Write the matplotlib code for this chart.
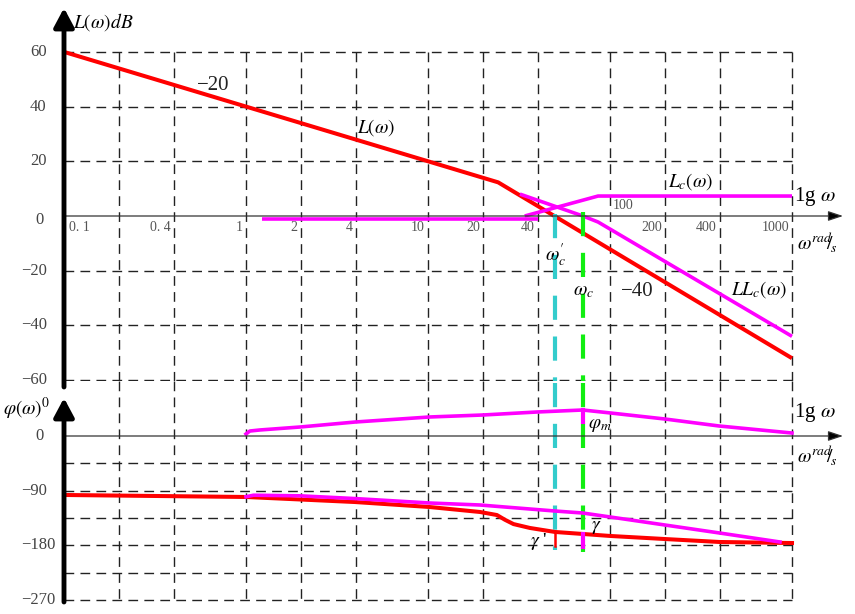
import numpy as np
import matplotlib
matplotlib.use('Agg')
import matplotlib.pyplot as plt

plt.rcParams['mathtext.fontset'] = 'stix'
plt.rcParams['font.family'] = ['Liberation Serif', 'DejaVu Serif']

# ---------------- data ----------------
grid_w = [0.2, 0.4, 1, 2, 4, 10, 20, 40, 100, 200, 400, 1000]
freq_ticks = [0.1, 0.4, 1, 2, 4, 10, 20, 40, 200, 400, 1000]
freq_labels = ['0. 1', '0. 4', '1', '2', '4', '10', '20', '40', '200', '400', '1000']
mag_ticks = [60, 40, 20, 0, -20, -40, -60]
mag_tick_labels = ['60', '40', '20', '0', '−20', '−40', '−60']
mag_grid = [60, 40, 20, -20, -40, -60]
phase_ticks = [0, -90, -180, -270]
phase_tick_labels = ['0', '−90', '−180', '−270']
phase_grid = [-45, -90, -135, -180, -225, -270]

# uncompensated magnitude L(w)
L_w = [0.1, 24.3, 1000]
L_db = [60, 12.3, -52]
# compensator magnitude Lc(w) (two sketched pieces)
Lc1_w = [1.22, 40]
Lc1_db = [-1.1, -1.1]
Lc2_w = [34, 86, 1000]
Lc2_db = [0, 7.3, 7.3]
# compensated magnitude LLc(w)
LLc_w = [32, 71, 86, 1000]
LLc_db = [8, 0, -2.2, -44]

# crossover frequencies
wc_prime = 49.9
wc = 70.9

# uncompensated phase
phi_w = [0.1, 1, 3.97, 10.2, 19.3, 23.9, 26.5, 29.5, 36.3, 49.9, 70.9, 100.6, 200, 400, 1000]
phi_deg = [-97.1, -100.4, -108.7, -116.9, -125.1, -130.1, -138, -145, -151.4, -158, -161.3,
           -164.6, -169.6, -174.5, -176.2]
# compensated phase
phiT_w = [1, 1.1, 1.98, 3.97, 10.2, 19.3, 49.9, 70.9, 100.6, 200, 400, 859]
phiT_deg = [-100, -97.5, -98.5, -103, -110.3, -113.6, -123.5, -126.8, -133.4, -146.5, -159.7, -174.5]
# compensator phase
phic_w = [1, 1.05, 1.19, 1.98, 3.97, 10.2, 20.1, 39.6, 70.9, 100.6, 200, 397, 1000]
phic_deg = [3.3, 8.2, 9.9, 14.8, 23, 31.3, 34.6, 39.5, 42.8, 37.9, 28, 16.5, 4.9]
phim_low = 23
gamma_low = -182
gamma_p_low = -181

# ---------------- styles ----------------
RED = '#ff0000'
MAG = '#ff00ff'
CYAN = '#33cccc'
GREEN = '#11ee11'
GRID = dict(color='#222222', lw=1.0, dashes=(7, 4.5))

W, H = 855, 614
fig = plt.figure(figsize=(W / 100, H / 100), dpi=100)
split = 381
ax1 = fig.add_axes([0, (H - split) / H, 1, split / H])
ax2 = fig.add_axes([0, 0, 1, (H - split) / H])

xl = (0.1 * 10 ** (-64 / 182), 0.1 * 10 ** ((W - 64) / 182))
for ax in (ax1, ax2):
    ax.set_xscale('log')
    ax.set_xlim(*xl)
    ax.axis('off')
ax1.set_ylim((216 - split) / 2.735, 216 / 2.735)
ax2.set_ylim(-(H - 436) / 0.6074, (436 - split) / 0.6074)
bot1 = (216 - split) / 2.735
top2 = (436 - split) / 0.6074

# grids
for g in grid_w:
    ax1.plot([g, g], [60, bot1], **GRID)
    if g == 40:
        ax2.plot([g, g], [top2, -135], **GRID)
    else:
        ax2.plot([g, g], [top2, -270], **GRID)
for g in mag_grid:
    ax1.plot([0.1, 1000], [g, g], **GRID)
for g in phase_grid:
    ax2.plot([0.1, 1000], [g, g], **GRID)

# horizontal axes with arrows
x_end = 0.1 * 10 ** ((843 - 64) / 182)
for ax in (ax1, ax2):
    ax.annotate('', xy=(x_end, 0), xytext=(0.1, 0),
                arrowprops=dict(arrowstyle='-|>,head_length=0.9,head_width=0.3', lw=0.9,
                                color='#333333', fc='black', shrinkA=0, shrinkB=0),
                annotation_clip=False)
# vertical thick axes
ax1.annotate('', xy=(0.1, (216 - 8) / 2.735), xytext=(0.1, (216 - 387) / 2.735),
             arrowprops=dict(arrowstyle='-|>,head_length=0.6,head_width=0.32', lw=3.5,
                             color='black', shrinkA=0, shrinkB=0, mutation_scale=19),
             annotation_clip=False)
ax2.annotate('', xy=(0.1, (436 - 398) / 0.6074), xytext=(0.1, -(602 - 436) / 0.6074),
             arrowprops=dict(arrowstyle='-|>,head_length=0.6,head_width=0.32', lw=3.5,
                             color='black', shrinkA=0, shrinkB=0, mutation_scale=19),
             annotation_clip=False)

# magnitude curves
ax1.plot(L_w, L_db, color=RED, lw=2.9, solid_capstyle='butt')
ax1.plot(Lc1_w, Lc1_db, color=MAG, lw=2.6, solid_capstyle='butt')
ax1.plot(Lc2_w, Lc2_db, color=MAG, lw=2.6, solid_capstyle='butt')
ax1.plot(LLc_w, LLc_db, color=MAG, lw=2.6, solid_capstyle='butt')

# crossover dashed lines
dash_kw = dict(lw=3.0, dashes=(5.8, 4.0), dash_capstyle='butt', clip_on=False)
ax1.plot([wc_prime, wc_prime], [0.8, bot1], color=CYAN, **dash_kw)
ax2.plot([wc_prime, wc_prime], [top2 - 4, -187.7], color=CYAN, **dash_kw)
ax1.plot([wc, wc], [1.5, bot1], color=GREEN, **dash_kw)
ax2.plot([wc, wc], [top2 - 4, -191], color=GREEN, **dash_kw)

# phase curves
ax2.plot(phi_w, phi_deg, color=RED, lw=2.9)
ax2.plot(phiT_w, phiT_deg, color=MAG, lw=2.6)
ax2.plot(phic_w, phic_deg, color=MAG, lw=2.6)
# markers phi_m, gamma, gamma'
ax2.plot([wc, wc], [phic_deg[8], phim_low], color=MAG, lw=3.0)
ax2.plot([wc, wc], [phi_deg[10], gamma_low], color=MAG, lw=3.0)
ax2.plot([wc_prime, wc_prime], [phi_deg[9], gamma_p_low], color=RED, lw=1.8)

# ---------------- tick labels ----------------
px = lambda p: 0.1 * 10 ** ((p - 64) / 182)
tc = '#444444'
for v, s in zip(mag_ticks, mag_tick_labels):
    x0 = 30 if v > 0 else (35 if v == 0 else 21)
    ax1.text(px(x0), v + (-1.5 if v == 0 else 0), s, ha='left', va='center', fontsize=12, color=tc)
for v, s in zip(phase_ticks, phase_tick_labels):
    x0 = 35 if v == 0 else 21
    ax2.text(px(x0), v, s, ha='left', va='center', fontsize=12, color=tc)

for w, s in zip(freq_ticks, freq_labels):
    if w == 0.1:
        ax1.annotate(s, (w, 0), xytext=(5, -5), textcoords='offset pixels', ha='left', va='top',
                     fontsize=10, color='#555555')
    else:
        ax1.annotate(s, (w, 0), xytext=(-3, -5), textcoords='offset pixels', ha='right', va='top',
                     fontsize=10, color='#555555')
ax1.annotate('100', (100, 0), xytext=(3, 4), textcoords='offset pixels', ha='left', va='bottom',
             fontsize=10, color='#555555')

# ---------------- annotations ----------------
db = lambda p: (216 - p) / 2.735
dg = lambda p: (436 - p) / 0.6074
ax1.text(px(73), db(22), r'$L(\omega)dB$', fontsize=14, ha='left', va='center')
ax1.text(px(213), db(86), '−20', fontsize=15, ha='center', va='center', color='#222222')
ax1.text(px(376), db(128), r'$L(\omega)$', fontsize=14, ha='center', va='center')
ax1.text(px(691), db(182), r'$L_c(\omega)$', fontsize=14, ha='center', va='center')
ax1.text(px(794), db(196), r'1g $\omega$', fontsize=15, ha='left', va='center')
ax1.text(px(797), db(243), r'$\omega^{rad}\!\!/_{\!s}$', fontsize=14, ha='left', va='center')
ax1.text(px(556), db(255), r"$\omega^{\prime}_{c}$", fontsize=14, ha='center', va='center')
ax1.text(px(584), db(292), r'$\omega_c$', fontsize=14, ha='center', va='center')
ax1.text(px(637), db(291), '−40', fontsize=15, ha='center', va='center', color='#222222')
ax1.text(px(759), db(290), r'$LL_c(\omega)$', fontsize=14, ha='center', va='center')

ax2.text(px(3), dg(409), r'$\varphi(\omega)^{0}$', fontsize=14, ha='left', va='center')
ax2.text(px(794), dg(413), r'1g $\omega$', fontsize=15, ha='left', va='center')
ax2.text(px(797), dg(456), r'$\omega^{rad}\!\!/_{\!s}$', fontsize=14, ha='left', va='center')
ax2.text(px(600), dg(426), r'$\varphi_m$', fontsize=14, ha='center', va='center')
ax2.text(px(596), dg(528), r'$\gamma$', fontsize=14, ha='center', va='center')
ax2.text(px(539), dg(541), r"$\gamma$ '", fontsize=14, ha='center', va='center')

fig.savefig('out.png', dpi=100)
